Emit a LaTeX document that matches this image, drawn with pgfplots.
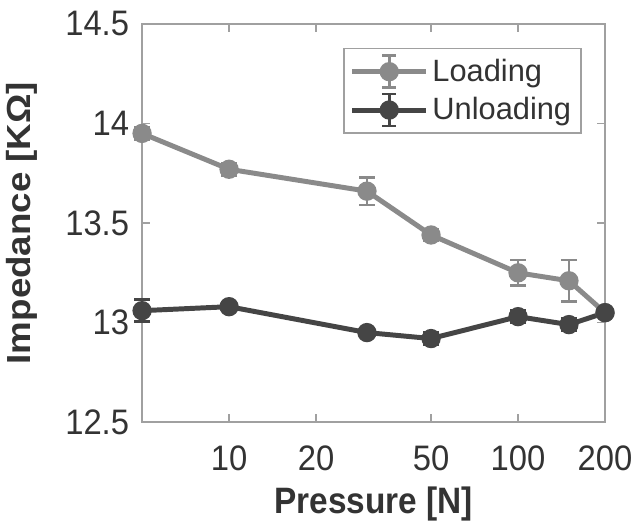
\documentclass[border=0pt]{standalone}
\usepackage{pgfplots}
\pgfplotsset{compat=1.18}
\usepackage{fontspec}
\setmainfont{Liberation Sans}
\definecolor{loadc}{HTML}{8A8A8A}
\definecolor{unloadc}{HTML}{454545}
\definecolor{axc}{HTML}{A0A0A0}
\definecolor{txtc}{HTML}{333333}
\newcommand{\tl}[1]{\scalebox{1}[1.08]{#1}}
\begin{document}
\begin{tikzpicture}
\begin{axis}[
    scale only axis,
    width=233pt, height=200.5pt,
    xmode=log,
    xmin=5, xmax=200,
    ymin=12.5, ymax=14.5,
    xtick={10,20,50,100,200},
    xticklabels={\tl{10},\tl{20},\tl{50},\tl{100},\tl{200}},
    ytick={12.5,13,13.5,14,14.5},
    yticklabels={\tl{12.5},\tl{13},\tl{13.5},\tl{14},\tl{14.5}},
    tick align=inside,
    major tick length=4pt,
    minor tick length=2.5pt,
    axis line style={axc, line width=1pt},
    every tick/.style={axc, line width=0.8pt},
    tick label style={font=\fontsize{16.5}{18}\selectfont, text=txtc},
    xticklabel style={yshift=-8.5pt},
    yticklabel style={xshift=-3pt},
    /pgf/number format/assume math mode=true,
    xlabel={\scalebox{1}[1.1]{\bfseries Pressure [N]}},
    ylabel={\scalebox{1.1}[1]{\bfseries Impedance [K\symbol{"03A9}]}},
    label style={font=\fontsize{16.8}{19}\selectfont, text=txtc},
    xlabel style={yshift=-1pt},
    ylabel style={yshift=7pt},
    clip=false,
    legend style={at={(0.95,0.94)}, anchor=north east, draw=axc, line width=0.8pt,
        font=\fontsize{15.5}{18}\selectfont, text=txtc, inner sep=3pt,
        row sep=2pt, cells={anchor=west}},
    legend image code/.code={%
        \draw[#1,mark=none] (0pt,0pt) -- (37pt,0pt);
        \draw[#1,mark=none,line width=1.3pt] (18.5pt,-8pt) -- (18.5pt,8pt)
            (15pt,-8pt) -- (22pt,-8pt) (15pt,8pt) -- (22pt,8pt);
        \draw[#1] plot coordinates {(18.5pt,0pt)};
    },
]
\addplot[color=loadc, line width=2.5pt, mark=*, mark size=3.6pt,
    error bars/.cd, y dir=both, y explicit,
    error bar style={line width=1.3pt, color=loadc},
    error mark options={rotate=90, mark size=4pt, line width=1.3pt, color=loadc}]
    coordinates {
    (5,13.95) +- (0,0.03)
    (10,13.77) +- (0,0.03)
    (30,13.66) +- (0,0.07)
    (50,13.44) +- (0,0.03)
    (100,13.25) +- (0,0.065)
    (150,13.21) +- (0,0.105)
    (200,13.05) +- (0,0.02)
    };
\addlegendentry{Loading}
\addplot[color=unloadc, line width=2.5pt, mark=*, mark size=3.6pt,
    error bars/.cd, y dir=both, y explicit,
    error bar style={line width=1.3pt, color=unloadc},
    error mark options={rotate=90, mark size=4pt, line width=1.3pt, color=unloadc}]
    coordinates {
    (5,13.06) +- (0,0.055)
    (10,13.08) +- (0,0.02)
    (30,12.95) +- (0,0.02)
    (50,12.92) +- (0,0.03)
    (100,13.03) +- (0,0.03)
    (150,12.99) +- (0,0.03)
    (200,13.05) +- (0,0.02)
    };
\addlegendentry{Unloading}
\end{axis}
% white space above the axis, as in the reference
\path ([yshift=12pt]current axis.north);
\end{tikzpicture}
\end{document}
